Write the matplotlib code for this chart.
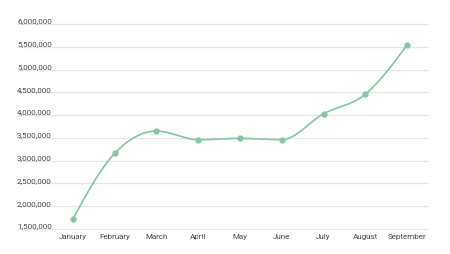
import numpy as np
import matplotlib.pyplot as plt

months = ["January", "February", "March", "April", "May", "June",
          "July", "August", "September"]
values = [1720000, 3160000, 3650000, 3460000, 3490000, 3460000,
          4030000, 4460000, 5540000]
y_ticks = [1500000, 2000000, 2500000, 3000000, 3500000, 4000000,
           4500000, 5000000, 5500000, 6000000]

line_color = "#86c6a2"
text_color = "#4a4a4a"
grid_color = "#e6e6e6"


def monotone_curve(y, steps=30):
    # d3 curveMonotoneX style interpolation on evenly spaced x
    y = np.asarray(y, dtype=float)
    n = len(y)
    d = np.diff(y)
    t = np.zeros(n)
    for i in range(1, n - 1):
        s0, s1 = d[i - 1], d[i]
        p = (s0 + s1) / 2
        t[i] = (np.sign(s0) + np.sign(s1)) * min(abs(s0), abs(s1), 0.5 * abs(p))
    t[0] = (3 * d[0] - t[1]) / 2
    t[-1] = (3 * d[-1] - t[-2]) / 2
    xs, ys = [], []
    for i in range(n - 1):
        u = np.linspace(0, 1, steps, endpoint=(i == n - 2))
        h00 = 2 * u**3 - 3 * u**2 + 1
        h10 = u**3 - 2 * u**2 + u
        h01 = -2 * u**3 + 3 * u**2
        h11 = u**3 - u**2
        xs.append(i + u)
        ys.append(h00 * y[i] + h10 * t[i] + h01 * y[i + 1] + h11 * t[i + 1])
    return np.concatenate(xs), np.concatenate(ys)


plt.rcParams["font.family"] = ["Roboto", "DejaVu Sans"]

fig = plt.figure(figsize=(4.5, 2.55), dpi=100)
ax = fig.add_axes([52 / 450, 1 - 230 / 255, 376 / 450, 205 / 255])

x = np.arange(len(months))
cx, cy = monotone_curve(values)
ax.plot(cx, cy, color=line_color, lw=1.2, zorder=3, clip_on=False)
ax.scatter(x, values, s=12, color=line_color, zorder=4, clip_on=False)

ax.set_xlim(-0.5, len(months) - 0.5)
ax.set_ylim(y_ticks[0], y_ticks[-1])

label_x = (17 - 52) / 376
trans = ax.get_yaxis_transform()
ax.hlines(y_ticks, label_x, 1, transform=trans, color=grid_color, lw=0.9,
          clip_on=False, zorder=1)
for v in y_ticks:
    ax.text(label_x, v + 12000, f"{v:,}", transform=trans, ha="left",
            va="bottom", fontsize=5.8, color=text_color)

ax.set_xticks(x)
ax.set_xticklabels(months, fontsize=5.8, color=text_color)
ax.tick_params(axis="x", length=0, pad=3)
ax.set_yticks([])
for s in ax.spines.values():
    s.set_visible(False)

fig.savefig("out.png", dpi=100)
